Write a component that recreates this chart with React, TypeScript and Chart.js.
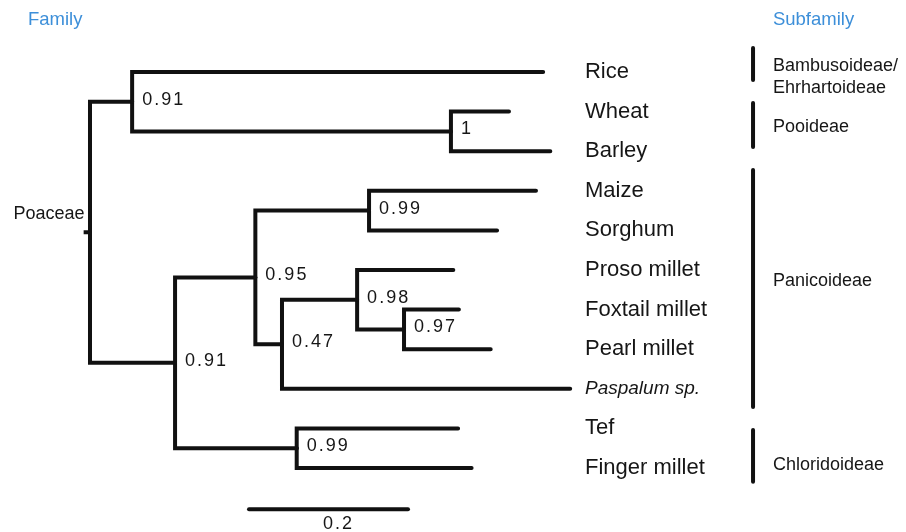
import { useEffect, useRef } from 'react';
import { Chart, registerables } from 'chart.js';

Chart.register(...registerables);

// ---- Data ----
const taxa = ['Rice', 'Wheat', 'Barley', 'Maize', 'Sorghum', 'Proso millet', 'Foxtail millet', 'Pearl millet', 'Paspalum sp.', 'Tef', 'Finger millet'];
const taxonItalic = [false, false, false, false, false, false, false, false, true, false, false];
// cumulative branch length from root to each tip
const taxonDepth = [0.570, 0.527, 0.579, 0.561, 0.512, 0.457, 0.464, 0.504, 0.604, 0.463, 0.480];

// internal nodes
const nodeNames = ['root', 'A', 'C', 'B', 'D', 'E', 'F', 'G', 'H', 'I'];
const nodeDepth = [0, 0.053, 0.454, 0.107, 0.208, 0.351, 0.2415, 0.336, 0.395, 0.260];
const nodeSupport = ['', '0.91', '1', '0.91', '0.95', '0.99', '0.47', '0.98', '0.97', '0.99'];
const nodeChildren = [
  ['A', 'B'],
  ['t0', 'C'],
  ['t1', 't2'],
  ['D', 'I'],
  ['E', 'F'],
  ['t3', 't4'],
  ['G', 't8'],
  ['t5', 'H'],
  ['t6', 't7'],
  ['t9', 't10'],
];

const familyLabel = 'Poaceae';
const subfamilyNames = [['Bambusoideae/', 'Ehrhartoideae'], ['Pooideae'], ['Panicoideae'], ['Chloridoideae']];
const subfamilyBarStart = [-0.606, 0.783, 2.475, 9.04];
const subfamilyBarEnd = [0.202, 1.894, 8.46, 10.35];
const subfamilyLabelRow = [[-0.15, 0.40], [1.39], [5.28], [9.92]];

const scaleBarStart = 0.2;
const scaleBarLength = 0.2;
const scaleBarLabel = '0.2';

// ---- Layout constants (positions/styles) ----
const X_MIN = -0.1132;
const X_MAX = 1.0264;
const Y_MIN = -1.818;
const Y_MAX = 11.616;
const TAXON_LABEL_X = 0.6226;
const SUB_BAR_X = 0.834;
const SUB_LABEL_X = 0.859;
const HEADER_ROW = -1.31;
const FAMILY_HEADER_X = -0.078;
const SCALE_ROW = 11.04;
const ROOT_STEM = 0.008;

const FONT = '"Liberation Sans", Arial, Helvetica, sans-serif';
const BLUE = '#3d8fd9';
const INK = '#111111';
const TEXT = '#161616';

function buildTree() {
  const yOf: Record<string, number> = {};
  const dOf: Record<string, number> = {};
  taxa.forEach((_, i) => {
    yOf['t' + i] = i;
    dOf['t' + i] = taxonDepth[i];
  });
  nodeNames.forEach((n, i) => (dOf[n] = nodeDepth[i]));
  const resolve = (name: string): number => {
    if (yOf[name] !== undefined) return yOf[name];
    const idx = nodeNames.indexOf(name);
    const ys = nodeChildren[idx].map(resolve);
    yOf[name] = ys.reduce((a, b) => a + b, 0) / ys.length;
    return yOf[name];
  };
  resolve('root');
  return { yOf, dOf };
}

export default function App() {
  const ref = useRef<HTMLCanvasElement | null>(null);

  useEffect(() => {
    if (!ref.current) return;
    const { yOf, dOf } = buildTree();
    const lineStyle = {
      showLine: true,
      borderColor: INK,
      borderWidth: 4,
      pointRadius: 0,
      pointHoverRadius: 0,
      tension: 0,
      fill: false,
      borderCapStyle: 'round' as const,
      borderJoinStyle: 'miter' as const,
    };
    const datasets: any[] = [];
    nodeNames.forEach((n, i) => {
      const px = dOf[n];
      const py = yOf[n];
      nodeChildren[i].forEach((c) => {
        datasets.push({
          ...lineStyle,
          data: [
            { x: px, y: py },
            { x: px, y: yOf[c] },
            { x: dOf[c], y: yOf[c] },
          ],
        });
      });
    });
    // root stem
    datasets.push({
      ...lineStyle,
      borderCapStyle: 'butt',
      data: [
        { x: -ROOT_STEM, y: yOf['root'] },
        { x: 0, y: yOf['root'] },
      ],
    });
    // subfamily bars
    subfamilyBarStart.forEach((s, i) => {
      datasets.push({
        ...lineStyle,
        data: [
          { x: SUB_BAR_X, y: s },
          { x: SUB_BAR_X, y: subfamilyBarEnd[i] },
        ],
      });
    });
    // scale bar
    datasets.push({
      ...lineStyle,
      data: [
        { x: scaleBarStart, y: SCALE_ROW },
        { x: scaleBarStart + scaleBarLength, y: SCALE_ROW },
      ],
    });

    const textPlugin = {
      id: 'treeText',
      afterDatasetsDraw(chart: any) {
        const ctx = chart.ctx as CanvasRenderingContext2D;
        const xs = chart.scales.x;
        const ys = chart.scales.y;
        const X = (v: number) => xs.getPixelForValue(v);
        const Y = (v: number) => ys.getPixelForValue(v);
        const draw = (
          t: string,
          x: number,
          y: number,
          font: string,
          color: string,
          align: CanvasTextAlign = 'left',
          spacing = '0px'
        ) => {
          ctx.save();
          ctx.font = font;
          ctx.fillStyle = color;
          ctx.textAlign = align;
          ctx.textBaseline = 'middle';
          (ctx as any).letterSpacing = spacing;
          ctx.fillText(t, x, y);
          ctx.restore();
        };
        // headers
        draw('Family', X(FAMILY_HEADER_X), Y(HEADER_ROW), `18.5px ${FONT}`, BLUE);
        draw('Subfamily', X(SUB_LABEL_X), Y(HEADER_ROW), `18.5px ${FONT}`, BLUE);
        // taxa
        taxa.forEach((t, i) => {
          draw(
            t,
            X(TAXON_LABEL_X),
            Y(i),
            `${taxonItalic[i] ? 'italic ' : ''}${taxonItalic[i] ? 19 : 22}px ${FONT}`,
            TEXT
          );
        });
        // supports
        nodeNames.forEach((n, i) => {
          if (!nodeSupport[i]) return;
          draw(nodeSupport[i], X(dOf[n]) + 10, Y(yOf[n]) - 2, `18px ${FONT}`, TEXT, 'left', '2px');
        });
        // family label
        draw(familyLabel, X(-ROOT_STEM) + 1, Y(yOf['root']) - 18, `18px ${FONT}`, TEXT, 'right');
        // subfamilies
        subfamilyNames.forEach((lines, i) => {
          lines.forEach((l, j) => {
            draw(l, X(SUB_LABEL_X), Y(subfamilyLabelRow[i][j]), `18px ${FONT}`, TEXT);
          });
        });
        // scale label
        draw(scaleBarLabel, X(scaleBarStart + scaleBarLength / 2) + 10, Y(SCALE_ROW) + 15, `18px ${FONT}`, TEXT, 'center', '2px');
      },
    };

    const chart = new Chart(ref.current, {
      type: 'scatter',
      data: { datasets },
      options: {
        animation: false,
        responsive: false,
        maintainAspectRatio: false,
        events: [],
        layout: { padding: 0 },
        plugins: { legend: { display: false }, tooltip: { enabled: false } },
        scales: {
          x: { type: 'linear', min: X_MIN, max: X_MAX, display: false },
          y: { type: 'linear', min: Y_MIN, max: Y_MAX, reverse: true, display: false },
        },
      },
      plugins: [textPlugin],
    });
    return () => chart.destroy();
  }, []);

  return (
    <div style={{ position: 'absolute', left: 0, top: 0, width: 906, height: 532, background: '#ffffff' }}>
      <canvas ref={ref} width={906} height={532} style={{ width: 906, height: 532, display: 'block' }} />
    </div>
  );
}
